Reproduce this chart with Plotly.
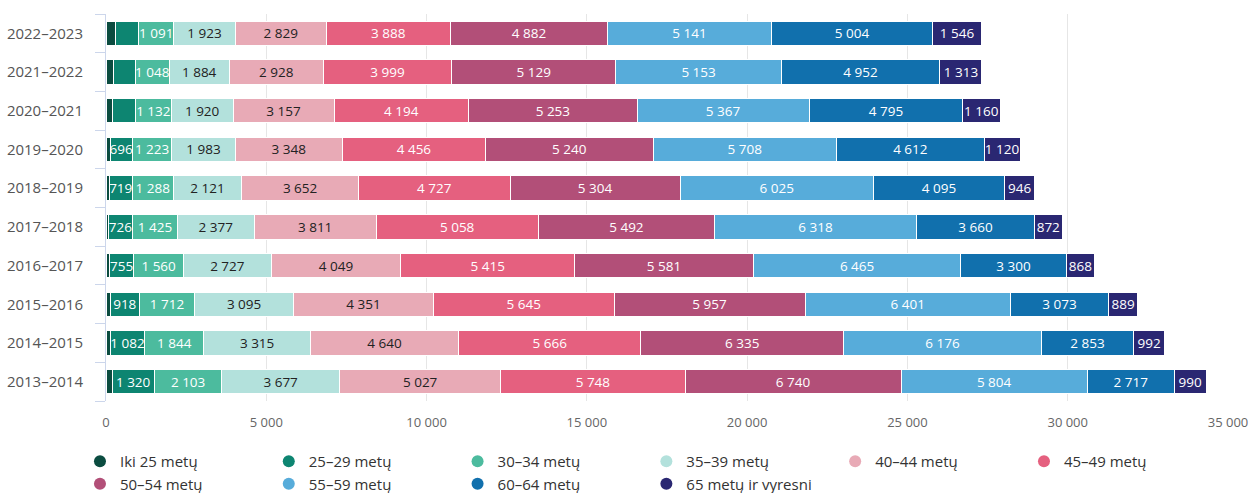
import plotly.graph_objects as go

years = ["2022–2023", "2021–2022", "2020–2021", "2019–2020", "2018–2019",
         "2017–2018", "2016–2017", "2015–2016", "2014–2015", "2013–2014"]

series_names = ["Iki 25 metų", "25–29 metų", "30–34 metų", "35–39 metų", "40–44 metų",
                "45–49 metų", "50–54 metų", "55–59 metų", "60–64 metų", "65 metų ir vyresni"]

iki25 = [300, 230, 210, 130, 100, 90, 110, 130, 130, 190]
a25_29 = [720, 690, 700, 696, 719, 726, 755, 918, 1082, 1320]
a30_34 = [1091, 1048, 1132, 1223, 1288, 1425, 1560, 1712, 1844, 2103]
a35_39 = [1923, 1884, 1920, 1983, 2121, 2377, 2727, 3095, 3315, 3677]
a40_44 = [2829, 2928, 3157, 3348, 3652, 3811, 4049, 4351, 4640, 5027]
a45_49 = [3888, 3999, 4194, 4456, 4727, 5058, 5415, 5645, 5666, 5748]
a50_54 = [4882, 5129, 5253, 5240, 5304, 5492, 5581, 5957, 6335, 6740]
a55_59 = [5141, 5153, 5367, 5708, 6025, 6318, 6465, 6401, 6176, 5804]
a60_64 = [5004, 4952, 4795, 4612, 4095, 3660, 3300, 3073, 2853, 2717]
a65 = [1546, 1313, 1160, 1120, 946, 872, 868, 889, 992, 990]

series_values = [iki25, a25_29, a30_34, a35_39, a40_44, a45_49, a50_54, a55_59, a60_64, a65]

# which series show labels (estimated segments hidden)
hide_label_series = {0}
hide_label_points = {1: {0, 1, 2}}

colors = ["#0b4c40", "#0d8571", "#4cbb9e", "#b3e1dc", "#e8aab6",
          "#e5607f", "#b24f78", "#57acda", "#1170ad", "#2a2772"]
text_colors = ["#ffffff", "#ffffff", "#ffffff", "#222222", "#222222",
               "#ffffff", "#ffffff", "#ffffff", "#ffffff", "#ffffff"]

FONT = "Open Sans, DejaVu Sans, sans-serif"

def fmt(v):
    return f"{v:,}".replace(",", " ")

fig = go.Figure()
for i, (name, vals) in enumerate(zip(series_names, series_values)):
    texts = []
    for j, v in enumerate(vals):
        if i in hide_label_series or j in hide_label_points.get(i, set()):
            texts.append("")
        else:
            texts.append(fmt(v))
    fig.add_trace(go.Bar(
        y=years, x=vals, orientation="h", name=name,
        marker=dict(color=colors[i], line=dict(color="#ffffff", width=1)),
        text=texts, textposition="inside", insidetextanchor="middle",
        textangle=0, constraintext="none",
        textfont=dict(color=text_colors[i], size=13.5, family=FONT),
        showlegend=False, hoverinfo="x+name",
    ))

for i, name in enumerate(series_names):
    fig.add_trace(go.Scatter(
        x=[None], y=[None], mode="markers", name=name,
        marker=dict(symbol="circle", size=15, color=colors[i]),
        showlegend=True,
    ))

fig.update_layout(
    barmode="stack",
    bargap=0.37,
    width=1253, height=493,
    margin=dict(l=106, r=25, t=14, b=92, autoexpand=False),
    paper_bgcolor="#ffffff", plot_bgcolor="#ffffff",
    font=dict(family=FONT, color="#333333"),
    separators=", ",
    uniformtext=dict(minsize=13.5, mode="show"),
    legend=dict(
        orientation="h", xref="paper", yref="paper",
        x=-0.0232, y=-0.1137, xanchor="left", yanchor="top",
        entrywidth=143.8, entrywidthmode="pixels", traceorder="normal",
        font=dict(size=15, color="#333333", family=FONT),
        itemsizing="constant", tracegroupgap=0,
        bgcolor="rgba(0,0,0,0)",
    ),
    xaxis=dict(
        range=[0, 35000], tickvals=[0, 5000, 10000, 15000, 20000, 25000, 30000, 35000],
        tickformat=",d", showgrid=True, gridcolor="#e6e6e6", gridwidth=1,
        zeroline=False, tickfont=dict(size=13, color="#666666"),
        ticks="", ticklabelstandoff=12, automargin=False,
    ),
    yaxis=dict(
        categoryorder="array", categoryarray=years[::-1],
        tickfont=dict(size=15, color="#555555"),
        showline=True, linecolor="#ccd6eb", linewidth=1,
        ticks="outside", tickson="boundaries", ticklen=10, tickcolor="#ccd6eb",
        showgrid=False, ticklabelstandoff=19, automargin=False,
    ),
)

fig.write_html("out.html", config={"displayModeBar": False},
               post_script="document.body.style.margin='0';document.body.style.overflow='hidden';")
